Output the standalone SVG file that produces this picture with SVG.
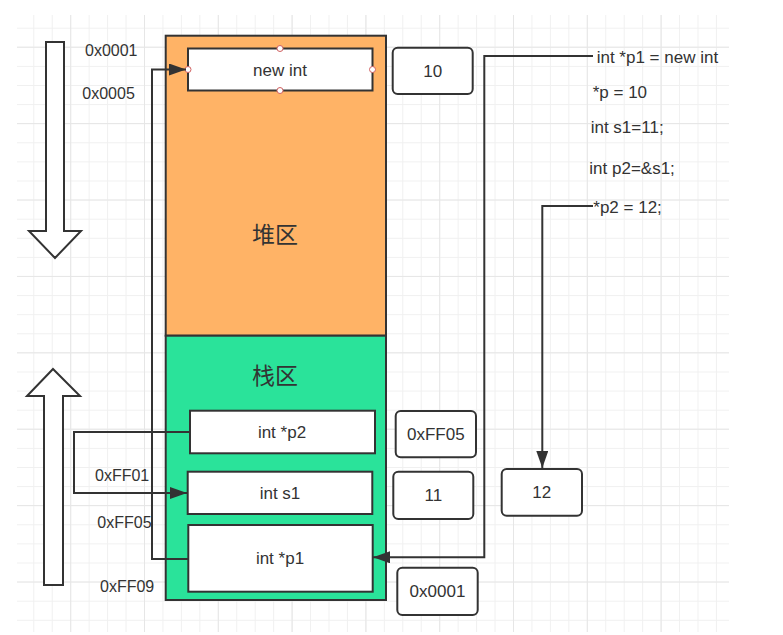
<svg xmlns="http://www.w3.org/2000/svg" width="783" height="635" viewBox="0 0 783 635">
  <defs>
    <pattern id="gridMinor" patternUnits="userSpaceOnUse" x="14.85" y="8.6" width="18.45" height="19.1">
      <path d="M0.5,0 V19.1 M0,0.5 H18.45" fill="none" stroke="#f0f0f0" stroke-width="1"/>
    </pattern>
    <pattern id="gridMajor" patternUnits="userSpaceOnUse" x="-3.6" y="46.7" width="73.8" height="76.4">
      <path d="M0.5,0 V76.4 M0,0.5 H73.8" fill="none" stroke="#e6e6e6" stroke-width="1"/>
    </pattern>
    <marker id="arrow" markerUnits="userSpaceOnUse" markerWidth="17" markerHeight="12" refX="17" refY="6" orient="auto">
      <path d="M0,0 L17,6 L0,12 Z" fill="#333"/>
    </marker>
    <style>
      .t { font-family: "Liberation Sans", "Noto Sans", sans-serif; fill: #333; }
      .lbl { font-size: 17px; text-anchor: middle; dominant-baseline: central; }
      .addr { font-size: 16px; }
      .code { font-size: 17px; }
      .cjk { font-family: "Noto Sans CJK SC", "Noto Sans", sans-serif; font-size: 23px; fill: #333; text-anchor: middle; dominant-baseline: central; }
      .box { fill: #fff; stroke: #333; stroke-width: 2; }
      .rbox { fill: #fff; stroke: #333; stroke-width: 2; }
      .conn { fill: none; stroke: #333; stroke-width: 2; }
      .blk { fill: #fff; stroke: #333; stroke-width: 2; stroke-linejoin: miter; }
      .pt { fill: #fff; stroke: #d06060; stroke-width: 1; }
    </style>
  </defs>

  <rect width="783" height="635" fill="#fff"/>
  <g id="grid">
    <rect x="17" y="15" width="712" height="617" fill="url(#gridMinor)"/>
    <rect x="17" y="15" width="712" height="617" fill="url(#gridMajor)"/>
  </g>

  <g id="arrow-down">
    <polygon class="blk" points="46,42 64,42 64,231 81,231 55,258 29,231 46,231"/>
  </g>
  <g id="arrow-up">
    <polygon class="blk" points="53,369 80,396 63,396 63,585 44,585 44,396 27,396"/>
  </g>

  <g id="heap">
    <rect x="165.7" y="35.7" width="220.3" height="300" fill="#FFB366" stroke="#333" stroke-width="2"/>
    <text class="cjk" x="275" y="233">堆区</text>
  </g>
  <g id="stack">
    <rect x="165.7" y="335.7" width="220.3" height="264.3" fill="#2AE39A" stroke="#333" stroke-width="2"/>
    <text class="cjk" x="275" y="374">栈区</text>
  </g>

  <g id="node-new-int">
    <rect class="box" x="188" y="48.5" width="184.5" height="42"/>
    <text class="t lbl" x="280" y="70">new int</text>
    <circle class="pt" cx="280" cy="48.5" r="3"/>
    <circle class="pt" cx="280" cy="90.5" r="3"/>
    <circle class="pt" cx="188" cy="69.5" r="3"/>
    <circle class="pt" cx="372.5" cy="69.5" r="3"/>
  </g>
  <g id="node-p2">
    <rect class="box" x="190" y="410.7" width="185" height="42.6"/>
    <text class="t lbl" x="282" y="432">int *p2</text>
  </g>
  <g id="node-s1">
    <rect class="box" x="187.7" y="471.7" width="184.6" height="42.3"/>
    <text class="t lbl" x="280" y="493">int s1</text>
  </g>
  <g id="node-p1">
    <rect class="box" x="188.3" y="525" width="184.4" height="66.7"/>
    <text class="t lbl" x="280" y="558">int *p1</text>
  </g>

  <g id="val-10">
    <rect class="rbox" x="392.7" y="47.7" width="80" height="46.3" rx="5"/>
    <text class="t lbl" x="432.7" y="71">10</text>
  </g>
  <g id="val-0xFF05">
    <rect class="rbox" x="395.7" y="411" width="80.3" height="46.3" rx="5"/>
    <text class="t lbl" x="435.8" y="434.5">0xFF05</text>
  </g>
  <g id="val-11">
    <rect class="rbox" x="393.3" y="471.7" width="80" height="47.3" rx="5"/>
    <text class="t lbl" x="433.3" y="495.5">11</text>
  </g>
  <g id="val-0x0001">
    <rect class="rbox" x="397.3" y="567.7" width="80.4" height="47.3" rx="5"/>
    <text class="t lbl" x="437.5" y="591.5">0x0001</text>
  </g>
  <g id="val-12">
    <rect class="rbox" x="501.7" y="469" width="80.3" height="46.7" rx="5"/>
    <text class="t lbl" x="541.8" y="492.5">12</text>
  </g>

  <g id="addresses">
    <text class="t addr" x="85" y="56">0x0001</text>
    <text class="t addr" x="82.3" y="98.5">0x0005</text>
    <text class="t addr" x="95" y="481">0xFF01</text>
    <text class="t addr" x="97.3" y="528">0xFF05</text>
    <text class="t addr" x="100" y="591.5">0xFF09</text>
  </g>

  <g id="code">
    <text class="t code" x="596.7" y="63.3">int *p1 = new int</text>
    <text class="t code" x="592.7" y="97.7">*p = 10</text>
    <text class="t code" x="590.7" y="133.3">int s1=11;</text>
    <text class="t code" x="589.3" y="174">int p2=&amp;s1;</text>
    <text class="t code" x="593.3" y="212.7">*p2 = 12;</text>
  </g>

  <g id="connectors">
    <path class="conn" d="M188,559 H152 V69.5 H186" marker-end="url(#arrow)"/>
    <path class="conn" d="M190,432 H74 V493 H187" marker-end="url(#arrow)"/>
    <path class="conn" d="M593,56 H484.3 V557.3 H373" marker-end="url(#arrow)"/>
    <path class="conn" d="M593,206 H542.3 V468" marker-end="url(#arrow)"/>
  </g>
</svg>
